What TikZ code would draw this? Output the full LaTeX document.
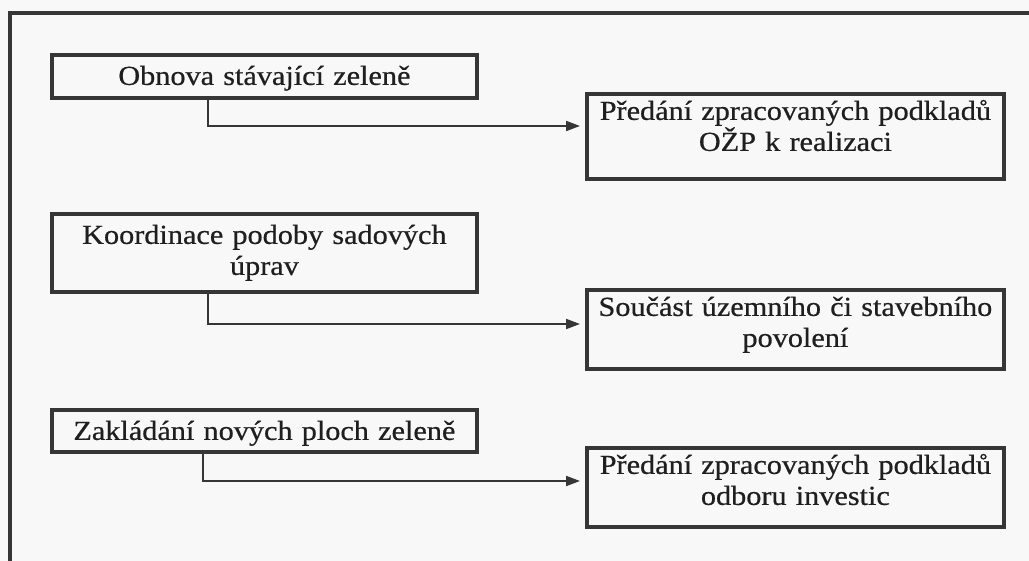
\documentclass[tikz,border=0pt]{standalone}
\usepackage{fontspec}
\setmainfont[FakeStretch=1.1,FakeBold=0.6]{Liberation Serif}
\usetikzlibrary{arrows.meta}
\definecolor{ink}{HTML}{363636}
\definecolor{paper}{HTML}{F8F8F8}
\tikzset{
  box/.style={draw=ink, line width=3.8pt, anchor=north west, inner xsep=4pt, inner ysep=0pt,
    align=center, font=\fontsize{27.5}{31}\selectfont, text=black!88},
  leftbox/.style={box, text width=417pt, text height=30pt},
  rightbox/.style={box, text width=409pt, text height=26pt},
  link/.style={draw=ink, line width=1.9pt, -{Triangle[length=14pt,width=10pt]}, shorten >=5pt},
}
\begin{document}
\begin{tikzpicture}[x=1pt,y=-1pt]
  \clip (0,0) rectangle (1029,561);
  \fill[paper] (0,0) rectangle (1029,561);
  \draw[ink, line width=4pt] (10,13) rectangle (1060,590);

  % Nodes with manual coordinates
  \node[leftbox, text depth=13pt] (obnova) at (50,53) {Obnova stávající zeleně};
  \node[rightbox, text depth=59pt] (predani) at (585,92) {Předání zpracovaných podkladů\\OŽP k realizaci};
  \node[leftbox, text depth=48pt] (koordinace) at (50,212) {Koordinace podoby sadových\\úprav};
  \node[rightbox, text depth=53pt] (soucast) at (585,288) {Součást územního či stavebního\\povolení};
  \node[leftbox, text depth=12.5pt] (zakladani) at (50,408) {Zakládání nových ploch zeleně};
  \node[rightbox, text depth=53pt] (investice) at (585,446) {Předání zpracovaných podkladů\\odboru investic};

  \coordinate (k1) at (208,126);
  \coordinate (k2) at (208,324);
  \coordinate (k3) at (203,481);

  % Edges
  \draw[link] (obnova.south -| k1) -- (k1) -- (k1 -| predani.west);
  \draw[link] (koordinace.south -| k2) -- (k2) -- (k2 -| soucast.west);
  \draw[link] (zakladani.south -| k3) -- (k3) -- (k3 -| investice.west);
\end{tikzpicture}
\end{document}
